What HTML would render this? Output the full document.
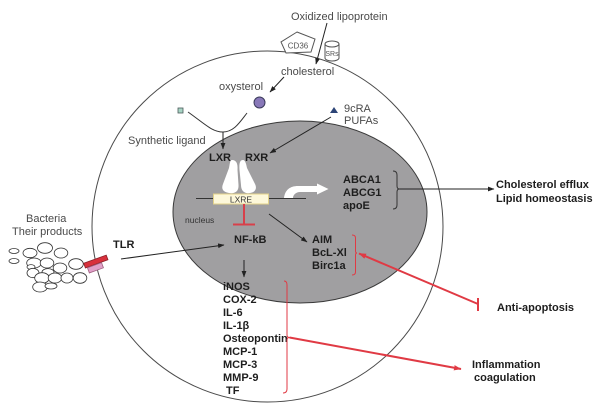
<!DOCTYPE html>
<html>
<head>
<meta charset="utf-8">
<style>
  html,body{margin:0;padding:0;background:#fff;}
  svg{display:block;}
  text{font-family:"Liberation Sans",Arial,sans-serif;}
  .n{font-size:11px;fill:#4a4a4a;}
  .b{font-size:11px;font-weight:bold;fill:#1e1e1e;}
</style>
</head>
<body>
<svg width="600" height="414" viewBox="0 0 600 414" xmlns="http://www.w3.org/2000/svg">
  <defs>
    <marker id="a" markerWidth="7" markerHeight="6" refX="6" refY="3" orient="auto" markerUnits="userSpaceOnUse">
      <path d="M0,0.6 L6.5,3 L0,5.4 Z" fill="#222"/>
    </marker>
    <marker id="ar" markerWidth="8" markerHeight="7" refX="7" refY="3.5" orient="auto" markerUnits="userSpaceOnUse">
      <path d="M0,0.8 L7.5,3.5 L0,6.2 Z" fill="#e03a44"/>
    </marker>
  </defs>

  <!-- cell -->
  <circle cx="267.5" cy="226.5" r="175.5" fill="#fff" stroke="#4a4a4a" stroke-width="1"/>

  <!-- nucleus -->
  <ellipse cx="300" cy="212" rx="127" ry="91" fill="#a09fa1" stroke="#3a3a3a" stroke-width="1"/>

  <!-- CD36 pentagon -->
  <polygon points="297,32 315,39 311,52 286,53 281,42" fill="#fff" stroke="#555" stroke-width="1"/>
  <text x="298" y="48.5" font-size="8" fill="#555" text-anchor="middle">CD36</text>

  <!-- SRs cylinder -->
  <path d="M325,44 L325,58 A7,3 0 0 0 339,58 L339,44" fill="#fff" stroke="#555" stroke-width="1"/>
  <ellipse cx="332" cy="44" rx="7" ry="3" fill="#fff" stroke="#555" stroke-width="1"/>
  <text x="332" y="56" font-size="7" fill="#555" text-anchor="middle">SRs</text>

  <!-- top labels -->
  <text class="n" x="291" y="20">Oxidized lipoprotein</text>
  <line x1="327" y1="23" x2="316" y2="64" stroke="#222" stroke-width="1" marker-end="url(#a)"/>
  <text class="n" x="281" y="75">cholesterol</text>
  <line x1="284" y1="77" x2="270" y2="92" stroke="#222" stroke-width="1" marker-end="url(#a)"/>
  <text class="n" x="219" y="90">oxysterol</text>
  <circle cx="259.5" cy="102.5" r="5.5" fill="#8878b8" stroke="#3a3a5a" stroke-width="1"/>

  <!-- synthetic ligand -->
  <rect x="178" y="108" width="5" height="5" fill="#a8d4c4" stroke="#4a5a5a" stroke-width="0.8"/>
  <path d="M188,112 C205,124 212,132 223,132 C234,132 240,122 247,113" fill="none" stroke="#333" stroke-width="1"/>
  <line x1="223" y1="132" x2="223" y2="149" stroke="#222" stroke-width="1" marker-end="url(#a)"/>
  <text class="n" x="128" y="144">Synthetic ligand</text>

  <!-- 9cRA -->
  <polygon points="330,113 334,107 338,113" fill="#2c4476"/>
  <text class="n" x="344" y="112">9cRA</text>
  <text class="n" x="344" y="124">PUFAs</text>
  <line x1="331" y1="117" x2="270" y2="153" stroke="#222" stroke-width="1" marker-end="url(#a)"/>

  <!-- LXR RXR -->
  <text class="b" x="209" y="161">LXR</text>
  <text class="b" x="245" y="161">RXR</text>

  <!-- receptors -->
  <path d="M232,160 C236,160 238,163 237.5,170 L238.5,185 C239,192 234,194 229,193 C223,192 221,189 223,184 L229,168 C230,163 230,160 232,160 Z" fill="#fff"/>
  <path d="M243,160 C240,160 239,163 239.5,170 L241,185 C241,192 246,194 250,193 C256,192 257,188 255,184 L247,168 C246,163 245,160 243,160 Z" fill="#fff"/>

  <!-- DNA line & LXRE -->
  <line x1="196" y1="198.5" x2="306" y2="198.5" stroke="#333" stroke-width="1"/>
  <rect x="213.5" y="194" width="55" height="10" fill="#fdf8da" stroke="#e2d28a" stroke-width="1"/>
  <text x="241" y="202.5" font-size="8.5" fill="#333" text-anchor="middle">LXRE</text>

  <!-- white bent arrow -->
  <path d="M284,198 C285,190 290,186 298,186 L317,186 L317,183.5 L328.5,189 L317,194.5 L317,192 L300,192 C296,192 293,195 293,198 Z" fill="#fff"/>

  <!-- ABCA1 group -->
  <text class="b" x="343" y="183">ABCA1</text>
  <text class="b" x="343" y="196">ABCG1</text>
  <text class="b" x="343" y="209">apoE</text>
  <path d="M393,171 Q397,171 397,175 L397,186 Q397,189 399.5,189 Q397,189 397,192 L397,205 Q397,209 393,209" fill="none" stroke="#333" stroke-width="1"/>
  <line x1="399.5" y1="189" x2="494" y2="189" stroke="#222" stroke-width="1" marker-end="url(#a)"/>
  <text class="b" x="496" y="188">Cholesterol efflux</text>
  <text class="b" x="496" y="202">Lipid homeostasis</text>

  <!-- nucleus label -->
  <text x="185" y="223" font-size="8.5" fill="#333">nucleus</text>

  <!-- red inhibition from LXRE -->
  <line x1="244" y1="204" x2="244" y2="224" stroke="#d8404a" stroke-width="2"/>
  <line x1="233" y1="224.5" x2="255" y2="224.5" stroke="#d8404a" stroke-width="2"/>

  <!-- NF-kB -->
  <text class="b" x="234" y="243">NF-kB</text>
  <line x1="121" y1="259" x2="224" y2="245" stroke="#222" stroke-width="1" marker-end="url(#a)"/>
  <line x1="244" y1="260" x2="244" y2="277" stroke="#222" stroke-width="1" marker-end="url(#a)"/>

  <!-- LXRE -> AIM -->
  <line x1="269" y1="214" x2="307" y2="242" stroke="#222" stroke-width="1" marker-end="url(#a)"/>
  <text class="b" x="312" y="243">AIM</text>
  <text class="b" x="312" y="256">BcL-Xl</text>
  <text class="b" x="312" y="269">Birc1a</text>
  <path d="M352,235 Q355.5,235 355.5,238 L355.5,251 Q355.5,253 357,253 Q355.5,253 355.5,255 L355.5,272 Q355.5,275 352,275" fill="none" stroke="#e03a44" stroke-width="1"/>
  <line x1="478" y1="304" x2="359" y2="253.5" stroke="#e03a44" stroke-width="2" marker-end="url(#ar)"/>
  <line x1="478" y1="298" x2="478" y2="311" stroke="#e03a44" stroke-width="2"/>
  <text class="b" x="497" y="311">Anti-apoptosis</text>

  <!-- list -->
  <text class="b" x="223" y="290">iNOS</text>
  <text class="b" x="223" y="303">COX-2</text>
  <text class="b" x="223" y="316">IL-6</text>
  <text class="b" x="223" y="329">IL-1β</text>
  <text class="b" x="223" y="342">Osteopontin</text>
  <text class="b" x="223" y="355">MCP-1</text>
  <text class="b" x="223" y="368">MCP-3</text>
  <text class="b" x="223" y="381">MMP-9</text>
  <text class="b" x="226" y="394">TF</text>
  <path d="M284,281 Q287,281 287,285 L287,335 Q287,337.5 289.5,337.5 Q287,337.5 287,340 L287,389 Q287,393 283,393" fill="none" stroke="#e03a44" stroke-width="1"/>
  <line x1="289.5" y1="337.5" x2="461" y2="369" stroke="#e03a44" stroke-width="2" marker-end="url(#ar)"/>
  <text class="b" x="472" y="368">Inflammation</text>
  <text class="b" x="474" y="381">coagulation</text>

  <!-- bacteria -->
  <text class="n" x="26" y="222">Bacteria</text>
  <text class="n" x="12" y="235">Their products</text>
  <g fill="#fff" stroke="#333" stroke-width="0.8">
    <ellipse cx="14" cy="251" rx="5" ry="2.5"/>
    <ellipse cx="14" cy="261" rx="5" ry="2.5"/>
    <ellipse cx="30" cy="253" rx="7" ry="4.7"/>
    <ellipse cx="45" cy="248" rx="7.5" ry="5.3"/>
    <ellipse cx="61" cy="253" rx="6.8" ry="5"/>
    <ellipse cx="34" cy="263" rx="7.3" ry="5"/>
    <ellipse cx="47" cy="263" rx="6.8" ry="5"/>
    <ellipse cx="76" cy="264" rx="7.3" ry="5.3"/>
    <ellipse cx="60" cy="268" rx="6.8" ry="5"/>
    <ellipse cx="31" cy="267" rx="4" ry="2.4"/>
    <ellipse cx="48" cy="272" rx="6" ry="3.4"/>
    <ellipse cx="33" cy="273" rx="6" ry="4.7"/>
    <ellipse cx="42" cy="278" rx="7.3" ry="5.3"/>
    <ellipse cx="55" cy="278" rx="6.8" ry="5"/>
    <ellipse cx="67" cy="278" rx="6" ry="5"/>
    <ellipse cx="80" cy="278" rx="6.8" ry="5.3"/>
    <ellipse cx="40" cy="287" rx="7.3" ry="5"/>
    <ellipse cx="51" cy="286" rx="6" ry="3"/>
  </g>

  <!-- TLR -->
  <g transform="rotate(-20 96 262)">
    <rect x="84" y="259" width="24" height="5" fill="#d8303c" stroke="#8a2028" stroke-width="0.8"/>
    <rect x="86" y="264.5" width="15" height="5.5" fill="#e0a0c8" stroke="#a06080" stroke-width="0.8"/>
  </g>
  <text class="b" x="113" y="248">TLR</text>
</svg>
</body>
</html>
